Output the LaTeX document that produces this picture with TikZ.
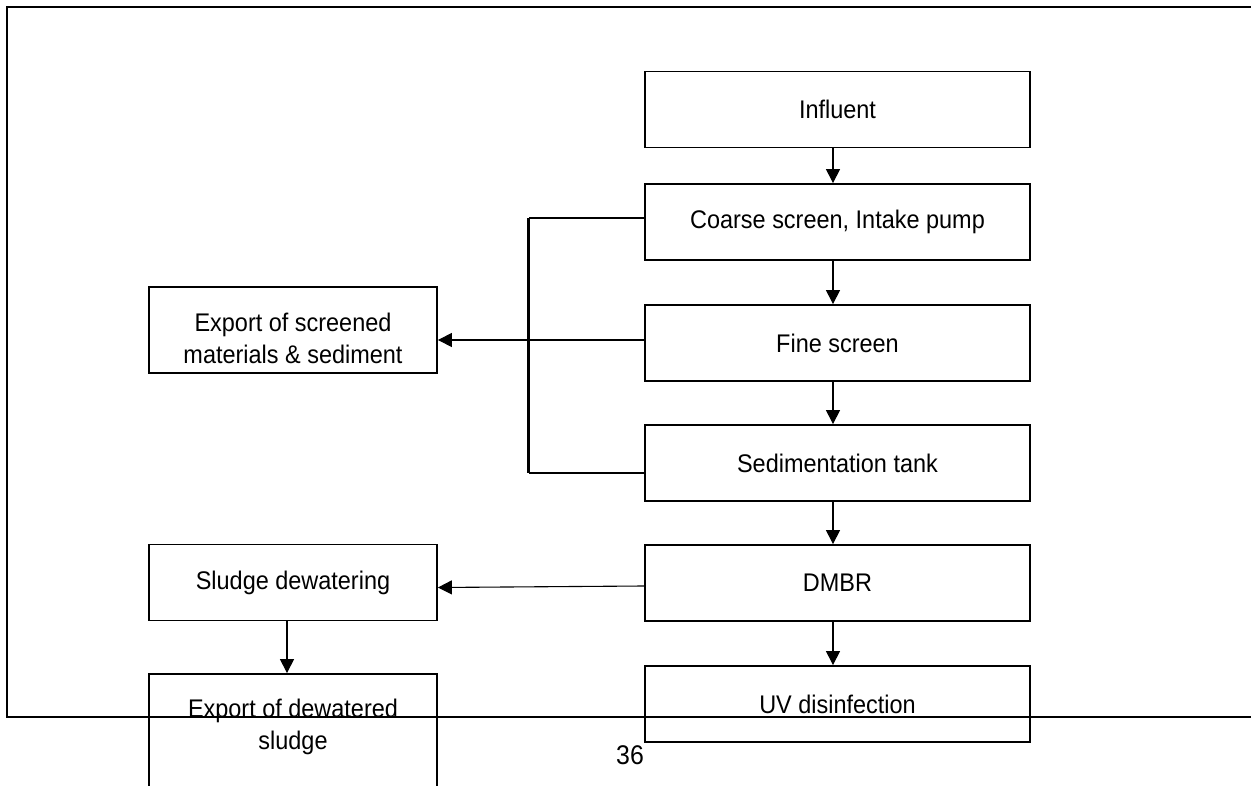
\documentclass[tikz,border=0pt]{standalone}
\usepackage{fontspec}
\setmainfont{Liberation Sans}[FakeStretch=0.92]
\usetikzlibrary{arrows.meta}
\begin{document}
\begin{tikzpicture}[x={(1pt,0pt)},y={(0pt,-1pt)},
  box/.style={draw,line width=1.8pt,minimum width=385pt,minimum height=76pt,inner sep=0pt,align=center,font=\fontsize{25.5}{32}\selectfont},
  lbox/.style={box,minimum width=288pt},
  txt/.style={inner sep=0pt,align=center,font=\fontsize{25.5}{32}\selectfont},
  arr/.style={line width=1.1pt,-{Triangle[length=14pt,width=14pt]}},
  brk/.style={line width=1.6pt},
  frame/.style={line width=2.2pt}]
\useasboundingbox (0,0) rectangle (1251,786);
\clip (0,0) rectangle (1251,786);
% frame
\draw[frame] (1260,7) -- (7,7) -- (7,717) -- (1260,717);
% right column
\node[box] (infl) at (837.5,109.5) {Influent};
\node[box] (coarse) at (837.5,222) {Coarse screen, Intake pump};
\node[box] (fine) at (837.5,343) {Fine screen};
\node[box] (sed) at (837.5,463) {Sedimentation tank};
\node[box] (dmbr) at (837.5,583) {\raisebox{-2pt}{DMBR}};
\node[box] (uv) at (837.5,704) {UV disinfection};
% left column
\node[lbox,minimum height=86pt] (scr) at (293,330) {};
\node[txt] (scrt) at (293,338) {Export of screened\\materials \& sediment};
\node[lbox] (sludge) at (293,582.5) {\raisebox{-3pt}{Sludge dewatering}};
\node[lbox,minimum height=140pt] (dwt) at (293,744) {};
\node[txt] (dwtt) at (293,727) {Export of dewatered\\sludge};
% page number
\node[inner sep=0pt,font=\fontsize{27}{30}\selectfont] (pg) at (630,755) {36};
% arrows
\draw[arr] ([xshift=-4.5pt]infl.south) -- ([xshift=-4.5pt]coarse.north);
\draw[arr] ([xshift=-4.5pt]coarse.south) -- ([xshift=-4.5pt]fine.north);
\draw[arr] ([xshift=-4.5pt]fine.south) -- ([xshift=-4.5pt]sed.north);
\draw[arr] ([xshift=-4.5pt]sed.south) -- ([xshift=-4.5pt]dmbr.north);
\draw[arr] ([xshift=-4.5pt]dmbr.south) -- ([xshift=-4.5pt]uv.north);
\draw[arr] ([yshift=3pt]fine.west) -- ([yshift=3pt]fine.west -| scr.east);
\draw[arr] ([yshift=-3pt]dmbr.west) -- ([yshift=-5pt]sludge.east);
\draw[arr] ([xshift=-6pt]sludge.south) -- ([xshift=-6pt]dwt.north);
% bracket
\coordinate (bk) at (528.5,0);
\draw[brk] ([yshift=4pt]coarse.west) -- ([yshift=4pt]coarse.west -| bk);
\draw[brk] ([yshift=-10pt]sed.west) -- ([yshift=-10pt]sed.west -| bk);
\draw[line width=2.4pt] ([yshift=4pt]coarse.west -| bk) -- ([yshift=-10pt]sed.west -| bk);
\end{tikzpicture}
\end{document}
